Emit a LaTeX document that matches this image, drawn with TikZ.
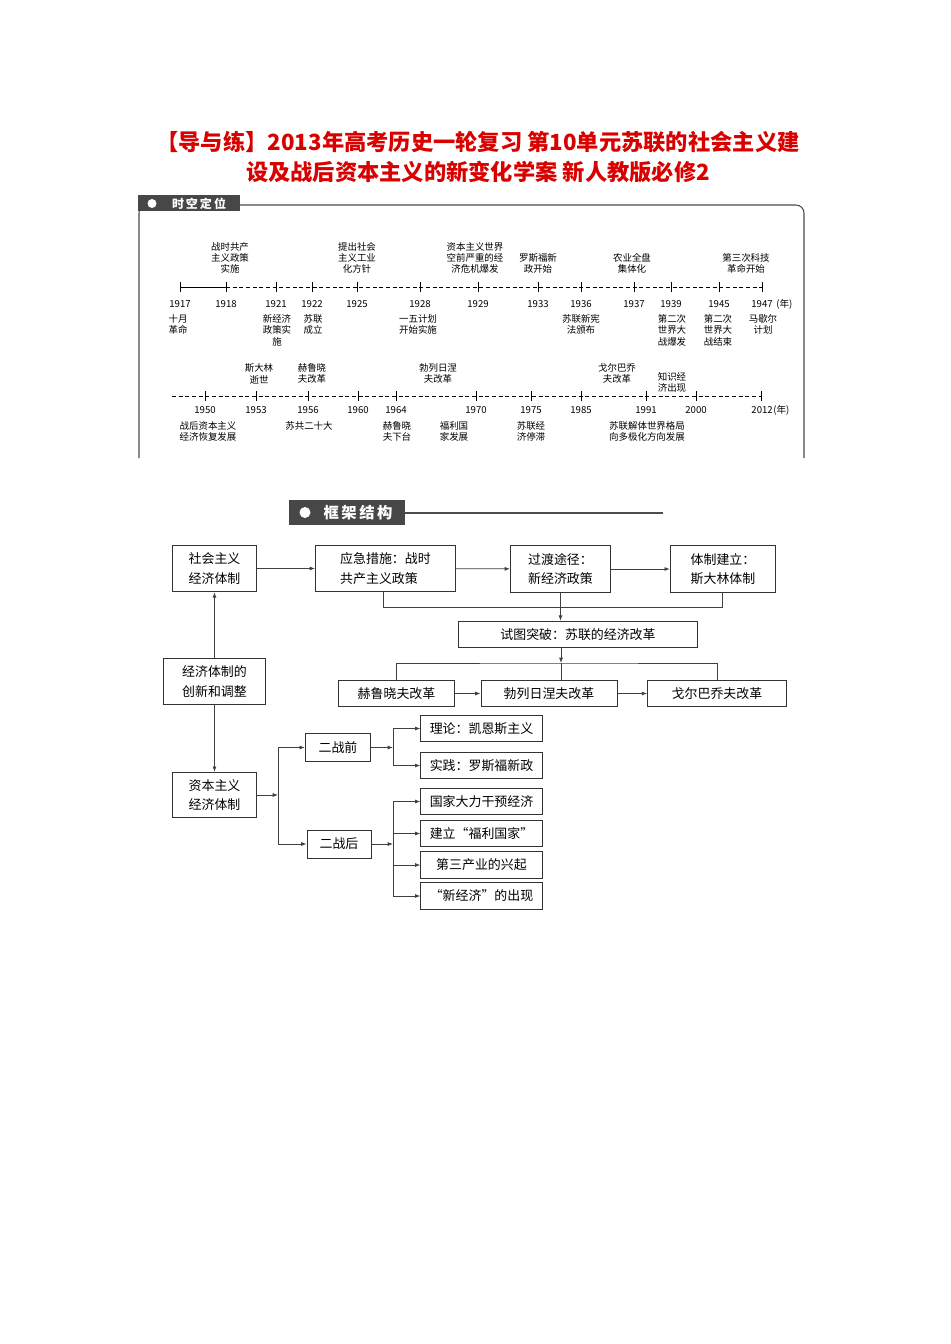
\documentclass[tikz,border=0pt]{standalone}
\usepackage{fontspec}
\setmainfont{Noto Sans CJK SC}
\usetikzlibrary{arrows.meta}
\begin{document}
\begin{tikzpicture}[x=0.75pt,y=-0.75pt,
  tl/.style={font=\fontsize{7.1}{8.6}\selectfont,align=center,inner sep=0pt},
  yr/.style={font=\fontsize{7.2}{8}\selectfont,inner sep=0pt},
  fb/.style={draw=black!80,line width=0.7pt,font=\fontsize{9.7}{14.5}\selectfont,align=left,inner sep=0pt},
  ln/.style={draw=black!75,line width=0.6pt},
  ar/.style={ln,-{Latex[length=4pt,width=3pt]}},
  axisd/.style={line width=0.6pt,dash pattern=on 3pt off 2pt},
  tick/.style={line width=0.6pt}]
\useasboundingbox (0,0) rectangle (950,1344);
% title
\node[text=red!85!black,font=\fontsize{16.7}{22}\bfseries,align=center] (title) at (478,157)
 {【导与练】2013年高考历史一轮复习\ 第10单元苏联的社会主义建\\设及战后资本主义的新变化学案\ 新人教版必修2};
% frame 1
\draw[line width=0.8pt,black!70,rounded corners=6] (139,458)--(139,205)--(804,205)--(804,458);
\fill[black!72] (138,195) rectangle (240,211);
\fill[white] (152,203.5) circle (4.5);
\node[text=white,font=\fontsize{9}{10}\bfseries] (h1) at (199,203.5) {时\,空\,定\,位};
% timeline 1
\draw[tick] (180,287)--(226,287);
\draw[axisd] (226,287)--(762,287);
\foreach \x/\y in {180/1917,226/1918,276/1921,312/1922,357/1925,420/1928,478/1929,538/1933,581/1936,634/1937,671/1939,719/1945,762/1947}{
  \draw[tick] (\x,282)--(\x,292);
  \node[yr] (y\y) at (\x,304) {\y};
}
\node[yr,anchor=west] (nian1) at (776,304) {(年)};
\foreach \n/\x/\t in {a/230/战时共产\\主义政策\\实施, b/357/提出社会\\主义工业\\化方针, c/475/资本主义世界\\空前严重的经\\济危机爆发, d/538/罗斯福新\\政开始, e/632/农业全盘\\集体化, f/746/第三次科技\\革命开始}{
  \node[tl,anchor=south] (t\n) at (\x,274) {\t};
}
\foreach \n/\x/\t in {a/178/十月\\革命, b/277/新经济\\政策实\\施, c/313/苏联\\成立, d/418/一五计划\\开始实施, e/581/苏联新宪\\法颁布, f/672/第二次\\世界大\\战爆发, g/718/第二次\\世界大\\战结束, h/763/马歇尔\\计划}{
  \node[tl,anchor=north] (u\n) at (\x,314) {\t};
}
% timeline 2
\draw[axisd] (172,396)--(762,396);
\foreach \x/\y in {205/1950,256/1953,308/1956,358/1960,396/1964,476/1970,531/1975,581/1985,646/1991,696/2000}{
  \draw[tick] (\x,391)--(\x,401);
  \node[yr] (z\y) at (\x,410) {\y};
}
\draw[tick] (761,391)--(761,401);
\node[yr,anchor=east] (z2012) at (773,410) {2012};
\node[yr,anchor=west] (nian2) at (773,410) {(年)};
\foreach \n/\x/\y/\t in {a/259/384/斯大林\\逝世, b/312/384/赫鲁晓\\夫改革, c/438/384/勃列日涅\\夫改革, d/617/384/戈尔巴乔\\夫改革, e/672/393/知识经\\济出现}{
  \node[tl,anchor=south] (v\n) at (\x,\y) {\t};
}
\foreach \n/\x/\t in {a/208/战后资本主义\\经济恢复发展, b/309/苏共二十大, c/397/赫鲁晓\\夫下台, d/454/福利国\\家发展, e/531/苏联经\\济停滞, f/647/苏联解体世界格局\\向多极化方向发展}{
  \node[tl,anchor=north] (w\n) at (\x,421) {\t};
}
% header 2
\fill[black!72] (289,500) rectangle (405,525);
\fill[white] (305,512.5) circle (5.5);
\node[text=white,font=\fontsize{11.5}{12}\bfseries] (h2) at (358,512.5) {框\,架\,结\,构};
\draw[line width=0.8pt,black!70] (405,513)--(663,513);
% framework boxes
\node[fb,minimum width=63pt,minimum height=35pt] (A) at (214.5,568.5) {社会主义\\经济体制};
\node[fb,minimum width=105pt,minimum height=35pt] (B) at (385.5,568.5) {应急措施：战时\\共产主义政策};
\node[fb,minimum width=75pt,minimum height=35pt] (C) at (560.5,569) {过渡途径：\\新经济政策};
\node[fb,minimum width=79pt,minimum height=35pt] (D) at (723,569) {体制建立：\\斯大林体制};
\node[fb,minimum width=179pt,minimum height=20pt] (E) at (578,634.5) {试图突破：苏联的经济改革};
\node[fb,minimum width=87pt,minimum height=20pt] (F) at (396.5,693.5) {赫鲁晓夫改革};
\node[fb,minimum width=102pt,minimum height=20pt] (G) at (549,693.5) {勃列日涅夫改革};
\node[fb,minimum width=104pt,minimum height=20pt] (H) at (717,693.5) {戈尔巴乔夫改革};
\node[fb,minimum width=77pt,minimum height=35pt] (I) at (214.5,681.5) {经济体制的\\创新和调整};
\node[fb,minimum width=63pt,minimum height=34pt] (J) at (214.5,795) {资本主义\\经济体制};
\node[fb,minimum width=49pt,minimum height=21pt] (K) at (338,747.5) {二战前};
\node[fb,minimum width=48pt,minimum height=21pt] (L) at (339,844) {二战后};
\node[fb,minimum width=91pt,minimum height=20pt] (M) at (481.5,728.5) {理论：凯恩斯主义};
\node[fb,minimum width=91pt,minimum height=20pt] (N) at (481.5,765.5) {实践：罗斯福新政};
\node[fb,minimum width=91pt,minimum height=20pt] (O) at (481.5,801.5) {国家大力干预经济};
\node[fb,minimum width=91pt,minimum height=20pt] (P) at (481.5,833.5) {建立“福利国家”};
\node[fb,minimum width=91pt,minimum height=20pt] (Q) at (481.5,865) {第三产业的兴起};
\node[fb,minimum width=91pt,minimum height=20pt] (R) at (481.5,896) {“新经济”的出现};
% connectors
\draw[ar] (A) -- (B);
\draw[ar] (B) -- (C);
\draw[ar] (C) -- (D);
\coordinate (b1) at (383,607);
\coordinate (b2) at (722,607);
\draw[ln] (B.south -| b1) -- (b1) -- (b2) -- (D.south -| b2);
\draw[ar] (C.south) -- (E.north -| C.south);
\coordinate (s1) at (561,663);
\draw[ar] (E.south -| s1) -- (s1);
\draw[ln] (F.north) |- (s1) -| (H.north);
\draw[ln] (s1) -- (G.north -| s1);
\draw[ar] (F) -- (G);
\draw[ar] (G) -- (H);
\draw[ar] (I) -- (A);
\draw[ar] (I) -- (J);
\coordinate (j1) at (278,795);
\draw[ar] (J.east) -- (j1);
\draw[ar] (j1) |- (K.west);
\draw[ar] (j1) |- (L.west);
\coordinate (k1) at (393,747.5);
\draw[ar] (K.east) -- (k1);
\draw[ar] (k1) |- (M.west);
\draw[ar] (k1) |- (N.west);
\coordinate (l1) at (393,844);
\draw[ar] (L.east) -- (l1);
\draw[ar] (l1) |- (O.west);
\draw[ar] (l1) |- (P.west);
\draw[ar] (l1) |- (Q.west);
\draw[ar] (l1) |- (R.west);
\end{tikzpicture}
\end{document}
